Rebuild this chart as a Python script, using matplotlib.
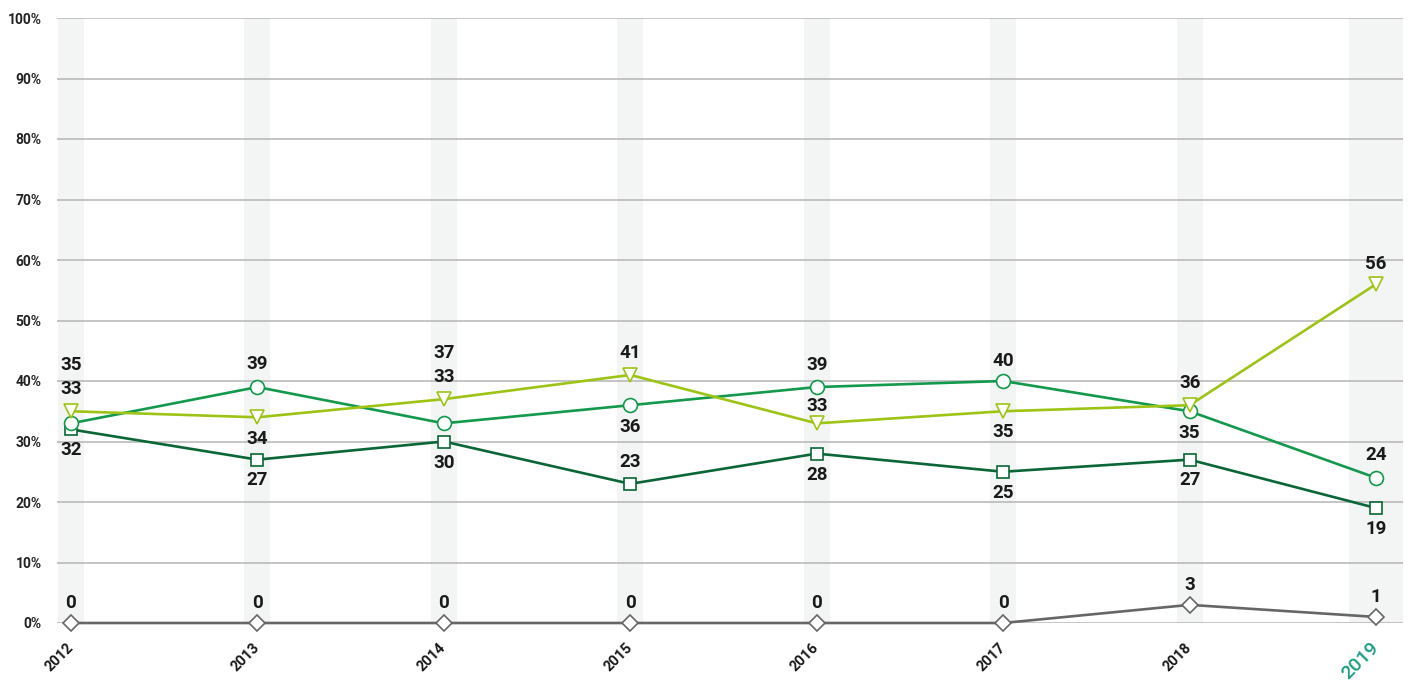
import matplotlib.pyplot as plt

plt.rcParams['font.family'] = ['Roboto', 'DejaVu Sans']

years = ["2012", "2013", "2014", "2015", "2016", "2017", "2018", "2019"]
circle_vals = [33, 39, 33, 36, 39, 40, 35, 24]
triangle_vals = [35, 34, 37, 41, 33, 35, 36, 56]
square_vals = [32, 27, 30, 23, 28, 25, 27, 19]
diamond_vals = [0, 0, 0, 0, 0, 0, 3, 1]
y_ticks = [0, 10, 20, 30, 40, 50, 60, 70, 80, 90, 100]

# label offsets in pixels (negative = above marker), picked to avoid overlaps
circle_off = [-34, -23, -46, 22, -22, -20, 22, -23]
triangle_off = [-46, 22, -46, -22, -17, 21, -22, -20]
square_off = [21, 20, 22, -22, 21, 21, 20, 21]
diamond_off = [-20] * 8

fig = plt.figure(figsize=(14.13, 6.91), dpi=100)
ax = fig.add_axes([57 / 1413, 68 / 691, 1346 / 1413, 605 / 691])

x = list(range(len(years)))
step = 186.43

# shaded year bands
for i in x:
    w = 54 / step if i == len(x) - 1 else 26 / step
    ax.axvspan(i - w / 2, i + w / 2, color="#f3f5f4", zorder=0, lw=0)

for t in y_ticks:
    ax.axhline(t, color="#b5b5b5", lw=1.1, zorder=1)

series = [
    (diamond_vals, "#666666", "D", 8, diamond_off),
    (square_vals, "#0b6637", "s", 9, square_off),
    (circle_vals, "#13994b", "o", 10, circle_off),
    (triangle_vals, "#9dc414", "v", 10, triangle_off),
]

for k, (vals, color, marker, ms, offs) in enumerate(series):
    ax.plot(x, vals, color=color, lw=1.9, marker=marker, markersize=ms,
            markerfacecolor="white", markeredgecolor=color, markeredgewidth=1.2,
            zorder=3 + k, clip_on=False)
    for xi, v, off in zip(x, vals, offs):
        ax.annotate(str(v), (xi, v), xytext=(0, -off), textcoords="offset pixels",
                    ha="center", va="center", fontsize=13.5, fontweight="bold",
                    color="#1a1a1a", zorder=10)

ax.set_xlim(-14 / step, 7 + 27 / step)
ax.set_ylim(0, 100)
ax.set_yticks(y_ticks)
ax.set_yticklabels([f"{t}%" for t in y_ticks], fontsize=10, fontweight="bold", color="#222222")
ax.tick_params(axis="y", length=0, pad=11)

ax.set_xticks(x)
ax.set_xticklabels(years, rotation=45, ha="right", va="center", rotation_mode="anchor",
                   fontsize=10.5, fontweight="bold", color="#1a1a1a")
ax.tick_params(axis="x", length=0, pad=16)
last = ax.get_xticklabels()[-1]
last.set_color("#1a9e82")
last.set_fontsize(14)
last.set_fontweight("medium")

for s in ax.spines.values():
    s.set_visible(False)

plt.savefig("out.png", dpi=100)
plt.close()
